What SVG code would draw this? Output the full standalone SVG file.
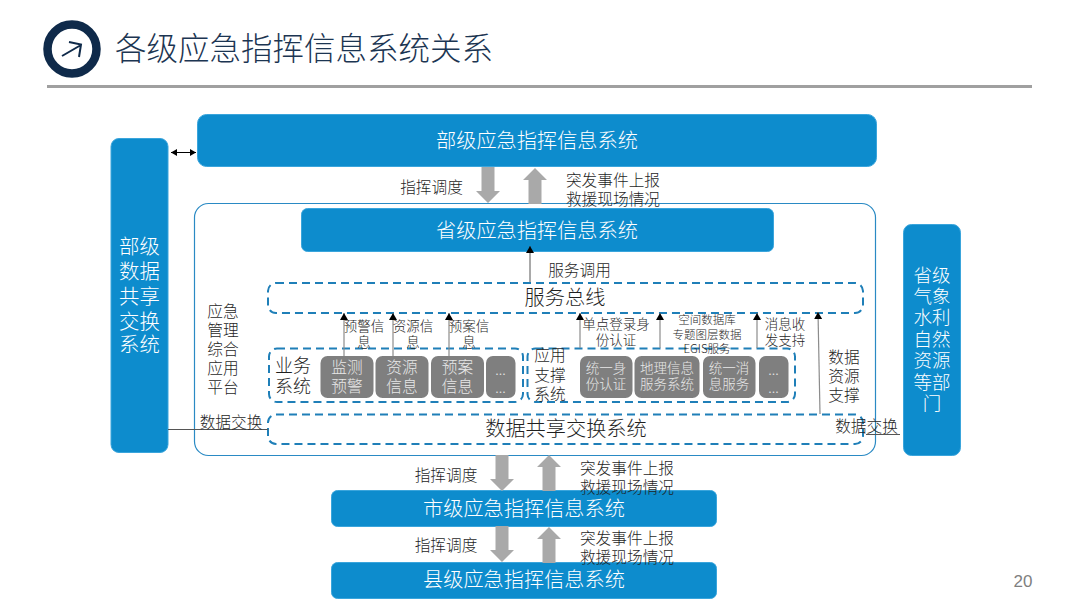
<svg xmlns="http://www.w3.org/2000/svg" width="1080" height="608" viewBox="0 0 1080 608">
<style>
text{font-family:"Noto Sans CJK SC","Liberation Sans",sans-serif;text-anchor:middle;fill:#1f1f1f;font-weight:300}
.b{fill:#0d8ccd;stroke:#3aa5dc;stroke-width:1}
.g{fill:#7f7f7f}
.n{fill:#fff;font-size:20.2px}
.s{fill:#fff;font-size:20.4px}
.r{fill:#fff;font-size:18.5px}
.m{font-size:20.2px}
.l{font-size:15.7px}
.q{font-size:18px}
.i{fill:#e8e8e8;font-size:15.7px}
.e{fill:#e8e8e8;font-size:13.5px}
.o{fill:#e8e8e8;font-size:14px}
.t13{font-size:13.5px}
.t11{font-size:11.5px}
.d{fill:none;stroke:#1f7fb8;stroke-width:2;stroke-dasharray:8 5}
.c{stroke:#8c8c8c;stroke-width:1.2;fill:none;marker-end:url(#ah)}
.k{stroke:#555;stroke-width:1;fill:none}
.ga{fill:#a9a9a9}
</style>
<defs>
<marker id="ah" markerUnits="userSpaceOnUse" markerWidth="8" markerHeight="8" refX="7" refY="4" orient="auto"><path d="M0 0L7 4L0 8Z" fill="#000"/></marker>
<marker id="as" markerUnits="userSpaceOnUse" markerWidth="7" markerHeight="7" refX="6" refY="3.5" orient="auto-start-reverse"><path d="M0 0L6 3.5L0 7Z" fill="#000"/></marker>
<path id="dn" d="M-6.500 0H6.500V24H12L0 36L-12 24H-6.500Z"/>
<path id="up" d="M-6.500 36H6.500V12H12L0 0L-12 12H-6.500Z"/>
</defs>
<g id="header">
<circle cx="72" cy="49" r="24.500" fill="#fff" stroke="#0f2a4a" stroke-width="8.500"/>
<path d="M62 56L81 45M69 42L81 44.500L79 57" fill="none" stroke="#0f2a4a" stroke-width="2"/>
<text x="304" y="60" style="font-size:31.5px;fill:#1c3552">各级应急指挥信息系统关系</text>
<rect x="47" y="85" width="985" height="3" fill="#a0a0a0"/>
</g>
<g id="platform"><rect x="194.500" y="203.500" width="681" height="252" rx="14" fill="#fff" stroke="#2a8ac4" stroke-width="1.200"/></g>
<g id="dept-data"><rect class="b" x="111" y="138.500" width="57" height="314" rx="8"/><text class="s" x="139.500" y="254">部级</text><text class="s" x="139.500" y="279">数据</text><text class="s" x="139.500" y="304">共享</text><text class="s" x="139.500" y="329">交换</text><text class="s" x="139.500" y="352">系统</text></g>
<g id="prov-data"><rect class="b" x="903.500" y="224.500" width="57" height="231" rx="8"/><text class="r" x="932" y="282">省级</text><text class="r" x="932" y="303">气象</text><text class="r" x="932" y="324">水利</text><text class="r" x="932" y="346">自然</text><text class="r" x="932" y="367">资源</text><text class="r" x="932" y="389">等部</text><text class="r" x="932" y="410">门</text></g>
<g id="dept"><rect class="b" x="197.500" y="114.500" width="679" height="52" rx="9"/><text class="n" x="537" y="148">部级应急指挥信息系统</text></g>
<g id="prov"><rect class="b" x="301.500" y="208.500" width="472" height="43" rx="6"/><text class="n" x="537" y="237.500">省级应急指挥信息系统</text></g>
<g id="city"><rect class="b" x="331.500" y="490.500" width="385" height="36" rx="6"/><text class="n" x="524" y="515.500">市级应急指挥信息系统</text></g>
<g id="county"><rect class="b" x="331.500" y="562.500" width="385" height="36" rx="6"/><text class="n" x="524" y="587">县级应急指挥信息系统</text></g>
<g id="bus"><rect class="d" x="268" y="283" width="595" height="30" rx="8"/><text class="m" x="565" y="305">服务总线</text></g>
<g id="exchange"><rect class="d" x="268" y="414.500" width="595" height="29.500" rx="8"/><text class="m" x="566" y="436">数据共享交换系统</text></g>
<g id="biz"><rect class="d" x="269" y="348.500" width="254" height="53.500" rx="8"/>
<text class="q" x="293" y="372">业务</text><text class="q" x="293" y="393">系统</text>
<g id="biz1"><rect class="g" x="320.500" y="356" width="53" height="42" rx="7"/><text class="i" x="347" y="373">监测</text><text class="i" x="347" y="392">预警</text></g>
<g id="biz2"><rect class="g" x="375.500" y="356" width="53" height="42" rx="7"/><text class="i" x="402" y="373">资源</text><text class="i" x="402" y="392">信息</text></g>
<g id="biz3"><rect class="g" x="431" y="356" width="53" height="42" rx="7"/><text class="i" x="457.500" y="373">预案</text><text class="i" x="457.500" y="392">信息</text></g>
<g id="biz4"><rect class="g" x="486" y="356" width="29.500" height="42" rx="7"/><text class="o" x="500.500" y="375">...</text><text class="o" x="500.500" y="393">...</text></g>
</g>
<g id="app"><rect class="d" x="527.500" y="348.500" width="267.500" height="53.500" rx="8"/>
<text class="l" x="550" y="361">应用</text><text class="l" x="550" y="381">支撑</text><text class="l" x="550" y="400">系统</text>
<g id="app1"><rect class="g" x="580" y="356" width="52.500" height="42" rx="7"/><text class="e" x="606" y="373">统一身</text><text class="e" x="606" y="389">份认证</text></g>
<g id="app2"><rect class="g" x="634.500" y="356" width="65" height="42" rx="7"/><text class="e" x="667" y="373">地理信息</text><text class="e" x="667" y="389">服务系统</text></g>
<g id="app3"><rect class="g" x="703" y="356" width="52.500" height="42" rx="7"/><text class="e" x="729" y="373">统一消</text><text class="e" x="729" y="389">息服务</text></g>
<g id="app4"><rect class="g" x="759" y="356" width="29.500" height="42" rx="7"/><text class="o" x="773.500" y="375">...</text><text class="o" x="773.500" y="393">...</text></g>
</g>
<g id="connectors">
<use href="#dn" x="488" y="167" class="ga"/>
<use href="#up" x="535" y="168" class="ga"/>
<use href="#dn" x="502" y="455" class="ga"/>
<use href="#up" x="549" y="455" class="ga"/>
<use href="#dn" x="502" y="526" class="ga"/>
<use href="#up" x="549" y="527" class="ga"/>
<path d="M171 152.500H196" stroke="#000" stroke-width="1" marker-start="url(#as)" marker-end="url(#as)"/>
<path class="k" d="M530 282V246" marker-end="url(#ah)"/>
<path class="c" d="M344 356V313"/><path class="c" d="M393 356V313"/><path class="c" d="M449 356V313"/>
<path class="c" d="M580 348V313"/><path class="c" d="M660 348V313"/><path class="c" d="M757 348V313"/>
<path class="c" d="M820 414L818 312"/>
<path class="k" d="M168 429.500H268"/>
<path class="k" d="M866 434.500H900"/>
</g>
<g id="labels">
<g class="l"><text x="431.500" y="192.500">指挥调度</text><text x="613" y="185.500">突发事件上报</text><text x="613" y="204.500">救援现场情况</text>
<text x="446" y="480.500">指挥调度</text><text x="627" y="473.500">突发事件上报</text><text x="627" y="492.500">救援现场情况</text>
<text x="446" y="551">指挥调度</text><text x="627" y="544">突发事件上报</text><text x="627" y="563">救援现场情况</text>
<text x="579.500" y="275.500">服务调用</text>
<text x="223" y="317">应急</text><text x="223" y="336">管理</text><text x="223" y="355">综合</text><text x="223" y="374">应用</text><text x="223" y="393">平台</text>
<text x="231" y="428">数据交换</text><text x="866.500" y="432">数据交换</text>
<text x="844" y="363">数据</text><text x="844" y="382">资源</text><text x="844" y="401">支撑</text></g>
<g class="t13"><text x="364" y="331">预警信</text><text x="364" y="347">息</text><text x="413" y="331">资源信</text><text x="413" y="347">息</text><text x="469" y="331">预案信</text><text x="469" y="347">息</text>
<text x="616" y="329">单点登录身</text><text x="616" y="345">份认证</text><text x="785" y="329">消息收</text><text x="785" y="345">发支持</text></g>
<g class="t11"><text x="707" y="324">空间数据库</text><text x="707" y="339">专题图层数据</text><text x="707" y="353">EGIS服务</text></g>
<text x="1023" y="587" style="font-size:17px;fill:#7f7f7f;font-family:'Liberation Sans',sans-serif">20</text>
</g>
</svg>
